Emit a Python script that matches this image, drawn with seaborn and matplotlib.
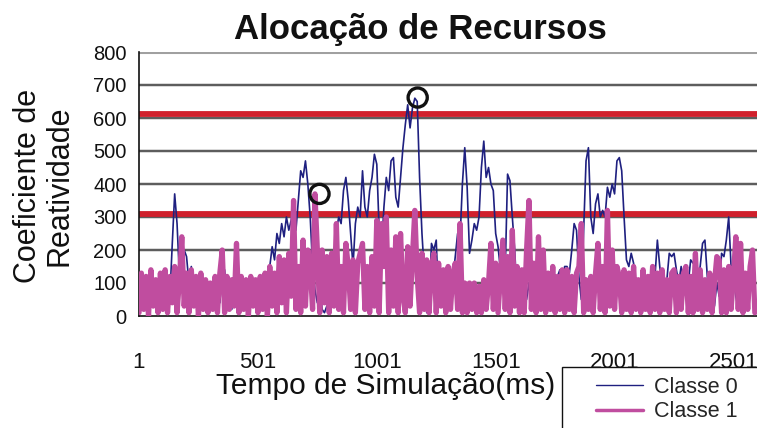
import numpy as np
import pandas as pd
import seaborn as sns
import matplotlib.pyplot as plt
from matplotlib.lines import Line2D
from matplotlib.patches import Rectangle

# ---------------- data ----------------
tempo = list(range(1, 2600, 10))  # simulation time samples (ms)

classe0 = [
    60, 120, 40, 90, 20, 100, 70, 30, 110, 50,
    80, 30, 100, 60, 220, 370, 280, 120, 190, 200,
    180, 100, 150, 60, 90, 40, 100, 30, 80, 60,
    90, 20, 70, 110, 40, 130, 140, 60, 100, 20,
    80, 110, 30, 70, 100, 50, 20, 90, 60, 40,
    100, 60, 30, 120, 80, 150, 210, 170, 250, 220,
    280, 240, 300, 260, 290, 330, 260, 350, 440, 420,
    470, 400, 300, 150, 80, 40, 100, 20, 10, 30,
    20, 30, 150, 260, 300, 280, 380, 420, 350, 250,
    150, 280, 330, 300, 440, 330, 300, 380, 420, 490,
    460, 260, 200, 330, 420, 380, 470, 480, 360, 330,
    420, 510, 580, 640, 570, 630, 660, 650, 420, 250,
    130, 10, 40, 220, 200, 230, 40, 100, 60, 20,
    90, 40, 110, 180, 250, 230, 400, 510, 390, 190,
    230, 280, 260, 300, 450, 530, 420, 450, 400, 380,
    250, 210, 140, 160, 130, 430, 410, 300, 200, 60,
    30, 80, 120, 50, 100, 30, 70, 110, 20, 60,
    100, 40, 130, 60, 150, 90, 120, 140, 70, 150,
    150, 130, 200, 280, 260, 120, 50, 260, 470, 510,
    300, 250, 340, 370, 300, 320, 300, 390, 360, 400,
    370, 470, 480, 440, 300, 170, 150, 190, 160, 60,
    90, 40, 100, 60, 110, 30, 80, 120, 230, 150,
    90, 50, 110, 190, 180, 190, 140, 100, 150, 80,
    60, 100, 170, 160, 170, 110, 150, 220, 230, 120,
    50, 80, 30, 100, 60, 190, 180, 230, 300, 150,
    130, 60, 20, 90, 40, 120, 70, 150, 100, 60,
]

classe1 = [
    10, 130, 20, 120, 0, 140, 30, 110, 10, 130,
    20, 140, 10, 120, 40, 150, 10, 110, 240, 30,
    130, 10, 140, 30, 120, 0, 130, 20, 110, 10,
    100, 20, 120, 10, 130, 200, 10, 120, 20, 110,
    30, 220, 10, 120, 20, 110, 0, 120, 30, 110,
    10, 120, 20, 130, 0, 150, 30, 130, 10, 180,
    40, 170, 10, 190, 60, 350, 20, 150, 10, 230,
    30, 200, 150, 20, 370, 200, 10, 200, 40, 180,
    10, 190, 30, 280, 20, 150, 10, 220, 150, 20,
    170, 10, 160, 190, 220, 20, 150, 10, 180, 30,
    290, 10, 280, 150, 300, 10, 200, 30, 240, 10,
    250, 60, 10, 210, 30, 180, 320, 120, 10, 190,
    20, 170, 10, 150, 190, 10, 160, 30, 140, 10,
    150, 20, 130, 160, 20, 280, 10, 100, 10, 100,
    20, 100, 10, 90, 10, 110, 20, 100, 220, 20,
    160, 10, 120, 230, 20, 180, 10, 260, 30, 150,
    10, 140, 10, 200, 350, 20, 160, 10, 240, 20,
    200, 10, 130, 20, 150, 10, 120, 20, 140, 10,
    140, 20, 120, 10, 130, 150, 280, 10, 110, 20,
    120, 10, 130, 220, 20, 150, 10, 320, 30, 200,
    20, 150, 120, 10, 140, 20, 130, 10, 150, 20,
    110, 10, 140, 20, 120, 10, 150, 20, 130, 10,
    140, 20, 110, 10, 130, 140, 10, 120, 20, 130,
    150, 10, 120, 10, 190, 20, 140, 10, 110, 20,
    130, 10, 100, 180, 170, 10, 140, 10, 150, 20,
    120, 240, 20, 220, 10, 130, 20, 150, 200, 10,
]

limiares = [310, 613]               # red threshold lines
marcas_x = [760, 1173]              # circled points
marcas_y = [370, 662]
x_ticks = [1, 501, 1001, 1501, 2001, 2501]
y_ticks = [0, 100, 200, 300, 400, 500, 600, 700, 800]

# ---------------- style ----------------
sns.set_style("white")
plt.rcParams['font.family'] = ['Liberation Sans', 'DejaVu Sans']

W, H = 757, 428
fig = plt.figure(figsize=(W / 100, H / 100), dpi=100)
ax = fig.add_axes([139 / W, 1 - 316 / H, (W - 139) / W, (316 - 52) / H])

df = pd.DataFrame({"tempo": tempo, "Classe 0": classe0, "Classe 1": classe1})

# gridlines
for v in y_ticks[1:]:
    if v == 800:
        ax.axhline(v, color='#a0a0a0', lw=2.2, zorder=0.5)
    else:
        ax.axhline(v, color='#d0d0d0', lw=2.6, zorder=0.4)
        ax.axhline(v, color='#3a3a3a', lw=1.1, zorder=0.5)

# threshold lines
for v in limiares:
    ax.axhline(v, color='#d0202c', lw=4.2, zorder=1)

c0 = '#1f2080'
c1 = '#c04d9f'
sns.lineplot(data=df, x="tempo", y="Classe 0", ax=ax, color=c0, lw=1.2,
             zorder=2, legend=False)
sns.lineplot(data=df, x="tempo", y="Classe 1", ax=ax, color=c1, lw=3.8,
             zorder=3, legend=False)

ax.scatter(marcas_x, marcas_y, s=190, facecolors='none', edgecolors='#111111',
           linewidths=2.4, zorder=5)

ax.set_xlim(1, 2600)
ax.set_ylim(0, 800)
ax.set_xticks(x_ticks)
ax.set_yticks(y_ticks)
ax.set_xlabel("")
ax.set_ylabel("")
for s in ['top', 'right']:
    ax.spines[s].set_visible(False)
for s in ['left', 'bottom']:
    ax.spines[s].set_color('#111111')
    ax.spines[s].set_linewidth(1.2)
ax.tick_params(axis='y', direction='out', length=5, width=1.1, pad=4,
               labelsize=14.5, colors='#111111')
ax.tick_params(axis='x', direction='out', length=7, width=1.1, pad=19,
               labelsize=16, colors='#111111')

fig.text(420 / W, 1 - 30 / H, "Alocação de Recursos", ha='center', va='center',
         fontsize=25, fontweight='bold', color='#111111')
fig.text(386 / W, 1 - 386 / H, "Tempo de Simulação(ms)", ha='center',
         va='center', fontsize=21.5, color='#111111')
fig.text(44 / W, 1 - 186 / H, "Coeficiente de\nReatividade", ha='center',
         va='center', rotation=90, fontsize=22, color='#111111',
         multialignment='center', linespacing=1.05)

# legend box (frame drawn separately so it runs off the figure edge)
fig.patches.append(Rectangle((562 / W, -0.05), 0.3, 0.05 + (H - 367) / H,
                             transform=fig.transFigure, facecolor='white',
                             edgecolor='#111111', lw=1.0, zorder=10))
handles = [Line2D([], [], color=c0, lw=1.0), Line2D([], [], color=c1, lw=2.5)]
leg = fig.legend(handles, ["Classe 0", "Classe 1"], loc='upper left',
                 bbox_to_anchor=(596 / W, 1 - 377 / H),
                 bbox_transform=fig.transFigure, frameon=False,
                 fontsize=15.5, handlelength=2.2, handletextpad=0.5,
                 borderpad=0, labelspacing=0.15, borderaxespad=0)
leg.set_zorder(11)

fig.savefig("out.png", dpi=100)
